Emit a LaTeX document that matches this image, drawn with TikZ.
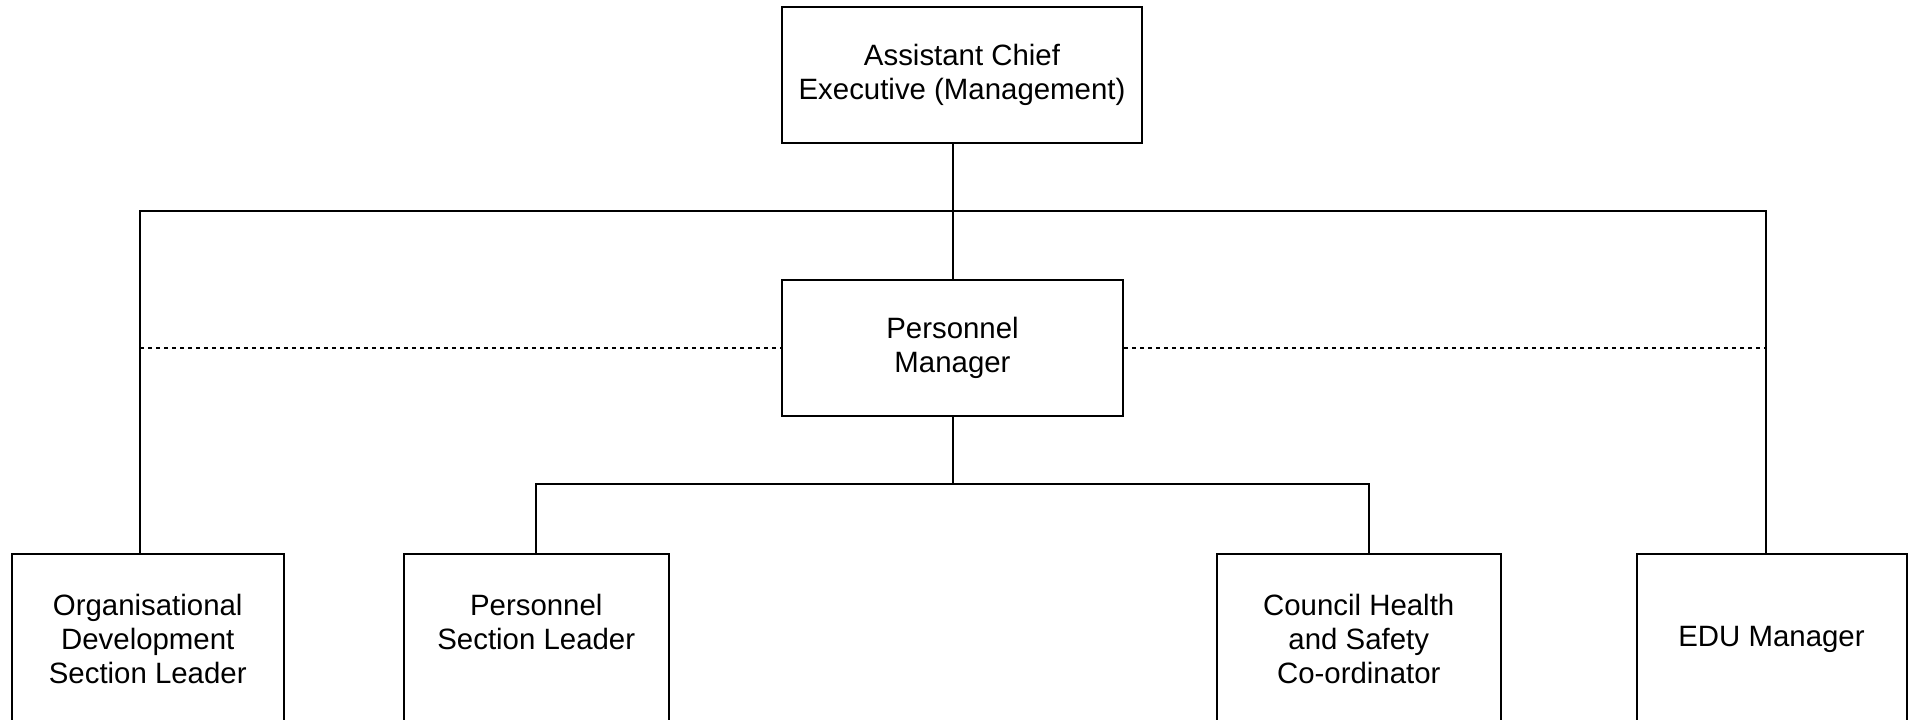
\documentclass[tikz,border=0pt]{standalone}
\usepackage{fontspec}
\setmainfont{Liberation Sans}
\begin{document}
\begin{tikzpicture}[x=0.5pt,y=-0.5pt,
  box/.style={draw, line width=1pt, align=center, inner sep=0pt,
    font=\fontsize{14.7}{17}\selectfont},
  conn/.style={line width=1pt},
  dotconn/.style={line width=1.3pt, dash pattern=on 2pt off 2pt}]
\useasboundingbox (0,0) rectangle (1908,719);
\clip (0,0) rectangle (1908,719);
\node[box, minimum width=180pt, minimum height=68pt] (ace) at (962,75) {Assistant Chief\\Executive (Management)};
\node[box, minimum width=170.5pt, minimum height=68pt] (pm) at (952.5,348) {Personnel\\Manager};
\node[box, minimum width=135.75pt, minimum height=85pt] (od) at (147.75,639) {Organisational\\Development\\Section Leader};
\node[box, minimum width=132.25pt, minimum height=85pt] (psl) at (536.25,639) {Personnel\\Section Leader\\\mbox{}};
\node[box, minimum width=141.75pt, minimum height=85pt] (hs) at (1358.75,639) {Council Health\\and Safety\\Co-ordinator};
\node[box, minimum width=135pt, minimum height=85pt] (edu) at (1771.5,639) {EDU Manager};
\coordinate (jt) at (952.5,211);
\coordinate (jm) at (952.5,484.3);
\coordinate (odstem) at ([xshift=-3.875pt]od.north);
\coordinate (edustem) at ([xshift=-2.9pt]edu.north);
\coordinate (hsstem) at ([xshift=5.1pt]hs.north);
\draw[conn] (odstem) |- (jt) -| (edustem);
\draw[conn] (ace.south -| pm.north) -- (pm.north);
\draw[conn] (pm.south) -- (jm);
\draw[conn] (psl.north) |- (jm) -| (hsstem);
\draw[dotconn] (pm.west -| odstem) -- (pm.west);
\draw[dotconn] (pm.east) -- (pm.east -| edustem);
\end{tikzpicture}
\end{document}
